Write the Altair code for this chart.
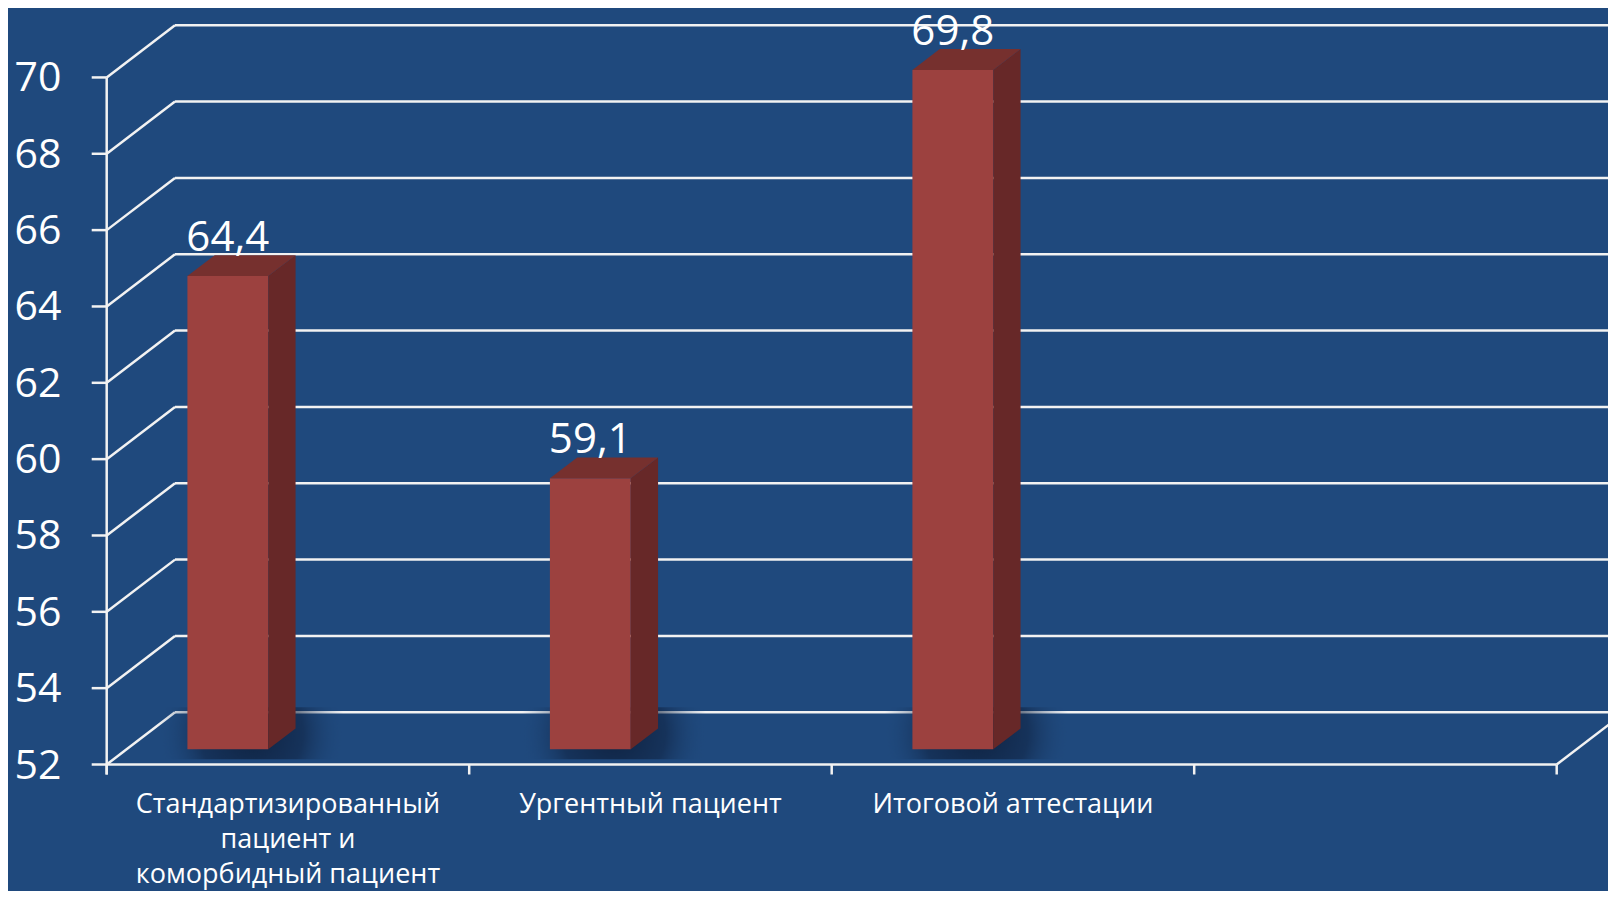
import altair as alt
import pandas as pd

# ---- data ----
categories = [
    "Стандартизированный\nпациент и\nкоморбидный пациент",
    "Ургентный пациент",
    "Итоговой аттестации",
]
values = [64.4, 59.1, 69.8]
value_labels = ["64,4", "59,1", "69,8"]
y_ticks = [52, 54, 56, 58, 60, 62, 64, 66, 68, 70]
n_slots = 4

# ---- geometry (styling constants) ----
W, H = 1600, 883
PX_SLOT = 362.5
PX_UNIT = 38.17
X0 = 98.7
Y52 = 756.5
YMIN = 52
XLO = -X0 / PX_SLOT
XHI = (W - X0) / PX_SLOT
YHI = YMIN + Y52 / PX_UNIT
YLO = YMIN - (H - Y52) / PX_UNIT
DX = 68.3 / PX_SLOT
DY = 52.2 / PX_UNIT
FRONT = 0.29
DEPTH = 0.40
BAR_L, BAR_R = 0.168, 0.391


def px_x(p):
    return p / PX_SLOT


def px_y(p):
    return p / PX_UNIT


BG = "#1F497D"
LINE = "#F2F2F2"
FRONT_C = "#9C413F"
TOP_C = "#76302E"
SIDE_C = "#672828"
FONT = "Open Sans"

xs = alt.Scale(domain=[XLO, XHI], nice=False, zero=False)
ys = alt.Scale(domain=[YLO, YHI], nice=False, zero=False)


def X(f="x"):
    return alt.X(f"{f}:Q", scale=xs, axis=None)


def Y(f="y"):
    return alt.Y(f"{f}:Q", scale=ys, axis=None)


# ---- lines ----
segs = []
for v in y_ticks:
    segs.append(dict(x=DX, y=v + DY, x2=XHI + 0.5, y2=v + DY))      # back wall gridline
    segs.append(dict(x=0, y=v, x2=DX, y2=v + DY))                  # side wall diagonal
    segs.append(dict(x=-px_x(15), y=v, x2=0, y2=v))                # y tick
segs.append(dict(x=0, y=YMIN - px_y(10), x2=0, y2=70))             # y axis line
segs.append(dict(x=0, y=YMIN, x2=n_slots, y2=YMIN))                # front floor line
segs.append(dict(x=n_slots, y=YMIN, x2=n_slots + DX, y2=YMIN + DY))  # right floor diagonal
for i in range(n_slots + 1):
    segs.append(dict(x=i, y=YMIN, x2=i, y2=YMIN - px_y(10)))       # x ticks
seg_df = pd.DataFrame(segs)

lines = alt.Chart(seg_df).mark_rule(color=LINE, strokeWidth=2.5).encode(
    x=X(), y=Y(), x2="x2:Q", y2="y2:Q"
)

# ---- shadows (soft radial gradient ellipses) ----
shadow_rows = []
for i, v in enumerate(values):
    lf = i + BAR_L + FRONT * DX
    rf = i + BAR_R + FRONT * DX
    bf = YMIN + FRONT * DY
    shadow_rows.append(dict(
        x=lf - px_x(30), x2=rf + DEPTH * DX + px_x(50),
        y=bf - px_y(10), y2=bf + px_y(42),
    ))
shadow_df = pd.DataFrame(shadow_rows)
shadow_grad = alt.Gradient(
    gradient="radial",
    stops=[
        alt.GradientStop(color="rgba(12,28,55,0.85)", offset=0),
        alt.GradientStop(color="rgba(14,32,62,0.55)", offset=0.55),
        alt.GradientStop(color="rgba(31,73,125,0)", offset=1),
    ],
    x1=0.5, y1=0.5, r1=0, x2=0.5, y2=0.5, r2=0.5,
)
shadows = alt.Chart(shadow_df).mark_rect(color=shadow_grad).encode(
    x=X(), x2="x2:Q", y=Y(), y2="y2:Q"
)

# ---- bars ----
front_rows = []
side_rows = []
top_rows = []
for i, v in enumerate(values):
    lf = i + BAR_L + FRONT * DX
    rf = i + BAR_R + FRONT * DX
    bf = YMIN + FRONT * DY
    tf = v + FRONT * DY
    front_rows.append(dict(x=lf, x2=rf, y=bf, y2=tf))
    side_rows.append(dict(bar=i, x=rf, y=tf, y2=bf))
    side_rows.append(dict(bar=i, x=rf + DEPTH * DX, y=tf + DEPTH * DY, y2=bf + DEPTH * DY))
    top_rows.append(dict(bar=i, y=tf, x=lf, x2=rf))
    top_rows.append(dict(bar=i, y=tf + DEPTH * DY, x=lf + DEPTH * DX, x2=rf + DEPTH * DX))

fronts = alt.Chart(pd.DataFrame(front_rows)).mark_rect(color=FRONT_C, opacity=1).encode(
    x=X(), x2="x2:Q", y=Y(), y2="y2:Q"
)
sides = alt.Chart(pd.DataFrame(side_rows)).mark_area(color=SIDE_C, orient="vertical", opacity=1).encode(
    x=X(), y=Y(), y2="y2:Q", detail="bar:N"
)
tops = alt.Chart(pd.DataFrame(top_rows)).mark_area(color=TOP_C, orient="horizontal", opacity=1).encode(
    y=Y(), x=X(), x2="x2:Q", detail="bar:N"
)

# ---- value labels ----
vl_df = pd.DataFrame(dict(
    x=[i + (BAR_L + BAR_R) / 2 + FRONT * DX for i in range(len(values))],
    y=[v + (FRONT + DEPTH) * DY for v in values],
    t=value_labels,
))
vlabels = alt.Chart(vl_df).mark_text(
    font=FONT, fontSize=42, color="white", baseline="alphabetic", align="center", dy=-4
).encode(x=X(), y=Y(), text="t:N")

# ---- y labels ----
yl_df = pd.DataFrame(dict(x=[-px_x(68.7)] * len(y_ticks), y=y_ticks, t=[str(v) for v in y_ticks]))
ylabels = alt.Chart(yl_df).mark_text(
    font=FONT, fontSize=41, color="white", baseline="middle", align="center", dy=2
).encode(x=X(), y=Y(), text="t:N")

# ---- category labels ----
cl_df = pd.DataFrame(dict(x=[i + 0.5 for i in range(len(categories))], y=[YMIN] * len(categories), t=categories))
clabels = alt.Chart(cl_df).mark_text(
    font=FONT, fontSize=27, color="white", baseline="top", align="center",
    dy=27, lineBreak="\n", lineHeight=35
).encode(x=X(), y=Y(), text="t:N")

chart = alt.layer(
    lines, shadows, fronts, sides, tops, vlabels, ylabels, clabels
).properties(
    width=W, height=H, background=BG, padding=0,
    autosize=alt.AutoSizeParams(type="none"),
).configure_view(stroke=None)

chart.save("out.html", embed_options={"renderer": "svg", "actions": False})
